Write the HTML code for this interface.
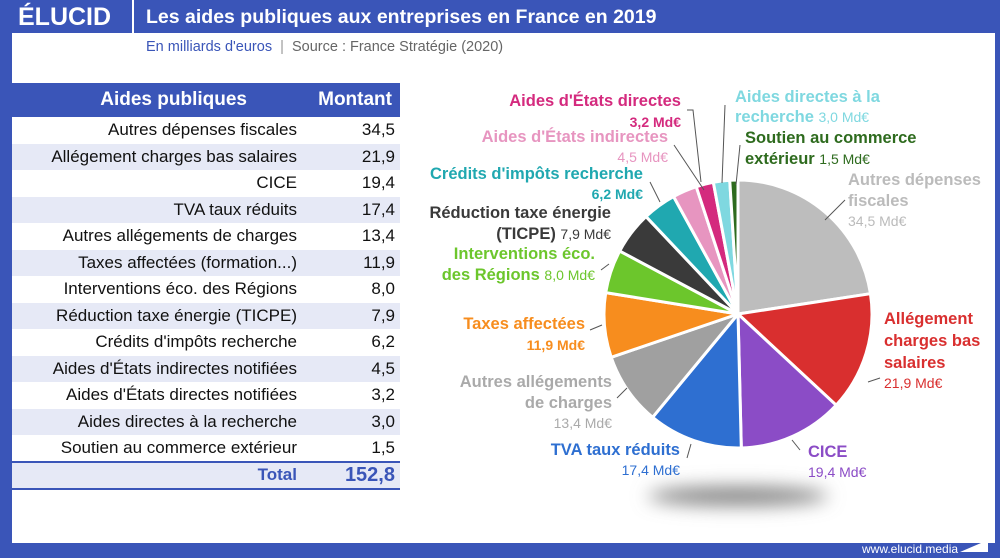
<!DOCTYPE html>
<html><head><meta charset="utf-8">
<style>
*{margin:0;padding:0;box-sizing:border-box}
body{width:1000px;height:558px;overflow:hidden;background:#3a55b8;font-family:"Liberation Sans",sans-serif;position:relative}
.inner{position:absolute;left:12px;top:33px;width:983px;height:510px;background:#fff}
.t{position:absolute;white-space:nowrap;font-weight:bold}
table{position:absolute;left:12px;top:83px;width:388px;border-collapse:collapse;table-layout:fixed}
td{font-size:17px;height:26.5px;padding:0;color:#111;white-space:nowrap;overflow:visible}
td.l{text-align:right;padding-right:3px}
td.v{text-align:right;padding-right:5px}
tr.s td{background:#e6e9f6}
tr.h td{background:#3a55b8;color:#fff;font-weight:bold;font-size:19px;height:34px}
tr.tot td{background:#e6e9f6;border-top:2px solid #3a55b8;border-bottom:2px solid #3a55b8;color:#3a55b8;font-weight:bold;height:27px}
</style></head><body>
<div class="inner"></div>
<div class="t" style="left:18px;top:3px;color:#fff;font-size:25px">ÉLUCID</div>
<div style="position:absolute;left:132px;top:0;width:2px;height:33px;background:#fff"></div>
<div class="t" style="left:146px;top:6px;color:#fff;font-size:19.5px">Les aides publiques aux entreprises en France en 2019</div>
<div class="t" style="left:146px;top:39px;font-weight:normal;font-size:14.5px;color:#3a55b8">En milliards d'euros <span style="color:#999">&nbsp;|&nbsp;</span> <span style="color:#666">Source : France Stratégie (2020)</span></div>
<table>
<colgroup><col style="width:288px"><col style="width:100px"></colgroup>
<tr class="h"><td style="text-align:right;padding-right:53px">Aides publiques</td><td style="text-align:right;padding-right:8px">Montant</td></tr>
<tr><td class="l">Autres dépenses fiscales</td><td class="v">34,5</td></tr>
<tr class="s"><td class="l">Allégement charges bas salaires</td><td class="v">21,9</td></tr>
<tr><td class="l">CICE</td><td class="v">19,4</td></tr>
<tr class="s"><td class="l">TVA taux réduits</td><td class="v">17,4</td></tr>
<tr><td class="l">Autres allégements de charges</td><td class="v">13,4</td></tr>
<tr class="s"><td class="l">Taxes affectées (formation...)</td><td class="v">11,9</td></tr>
<tr><td class="l">Interventions éco. des Régions</td><td class="v">8,0</td></tr>
<tr class="s"><td class="l">Réduction taxe énergie (TICPE)</td><td class="v">7,9</td></tr>
<tr><td class="l">Crédits d'impôts recherche</td><td class="v">6,2</td></tr>
<tr class="s"><td class="l">Aides d'États indirectes notifiées</td><td class="v">4,5</td></tr>
<tr><td class="l">Aides d'États directes notifiées</td><td class="v">3,2</td></tr>
<tr class="s"><td class="l">Aides directes à la recherche</td><td class="v">3,0</td></tr>
<tr><td class="l">Soutien au commerce extérieur</td><td class="v">1,5</td></tr>
<tr class="tot"><td class="l">Total</td><td class="v" style="font-size:20px">152,8</td></tr>
</table>
<svg style="position:absolute;left:0;top:0" width="1000" height="558">
<defs><filter id="b" x="-50%" y="-200%" width="200%" height="500%"><feGaussianBlur stdDeviation="9"/></filter></defs>
<ellipse cx="738" cy="496" rx="90" ry="10" fill="#888" filter="url(#b)"/>
<g id="pie"></g>
<g stroke="#555" stroke-width="1" fill="none">
<path d="M687 110 h6 l8 72"/><path d="M674 145 l30 45"/><path d="M650 182 l10 20"/>
<path d="M725 105 l-3 78"/><path d="M740 145 l-4 40"/><path d="M845 200 l-20 20"/>
<path d="M880 378 l-12 4"/><path d="M800 450 l-8 -10"/><path d="M687 458 l4 -14"/>
<path d="M617 398 l10 -10"/><path d="M590 330 l12 -5"/><path d="M601 270 l8 -6"/>
</g>
</svg>
<div class="t" style="right:319px;top:92px;color:#d42a7e;font-size:16.5px">Aides d'États directes</div>
<div class="t" style="right:319px;top:114px;color:#d42a7e;font-size:14px">3,2 Md€</div>
<div class="t" style="right:332px;top:128px;color:#e795c0;font-size:16.5px">Aides d'États indirectes</div>
<div class="t" style="right:332px;top:149px;color:#e795c0;font-size:14px;font-weight:normal">4,5 Md€</div>
<div class="t" style="right:357px;top:165px;color:#20a8b0;font-size:16.5px">Crédits d'impôts recherche</div>
<div class="t" style="right:357px;top:186px;color:#20a8b0;font-size:14px">6,2 Md€</div>
<div class="t" style="right:389px;top:204px;color:#3a3a3a;font-size:16.5px">Réduction taxe énergie</div>
<div class="t" style="right:389px;top:225px;color:#3a3a3a;font-size:16.5px">(TICPE) <span style="font-size:14px;font-weight:normal">7,9 Md€</span></div>
<div class="t" style="right:405px;top:245px;color:#6cc62c;font-size:16.5px">Interventions éco.</div>
<div class="t" style="right:405px;top:266px;color:#6cc62c;font-size:16.5px">des Régions <span style="font-size:14px;font-weight:normal">8,0 Md€</span></div>
<div class="t" style="right:415px;top:315px;color:#f78d1e;font-size:16.5px">Taxes affectées</div>
<div class="t" style="right:415px;top:337px;color:#f78d1e;font-size:14px">11,9 Md€</div>
<div class="t" style="right:388px;top:373px;color:#aaa;font-size:16.5px">Autres allégements</div>
<div class="t" style="right:388px;top:394px;color:#aaa;font-size:16.5px">de charges</div>
<div class="t" style="right:388px;top:415px;color:#aaa;font-size:14px;font-weight:normal">13,4 Md€</div>
<div class="t" style="right:320px;top:441px;color:#2e6fd1;font-size:16.5px">TVA taux réduits</div>
<div class="t" style="right:320px;top:462px;color:#2e6fd1;font-size:14px;font-weight:normal">17,4 Md€</div>
<div class="t" style="left:735px;top:88px;color:#7fd8e0;font-size:16.5px">Aides directes à la</div>
<div class="t" style="left:735px;top:108px;color:#7fd8e0;font-size:16.5px">recherche <span style="font-size:14px;font-weight:normal">3,0 Md€</span></div>
<div class="t" style="left:745px;top:129px;color:#2e6b1e;font-size:16.5px">Soutien au commerce</div>
<div class="t" style="left:745px;top:150px;color:#2e6b1e;font-size:16.5px">extérieur <span style="font-size:14px;font-weight:normal">1,5 Md€</span></div>
<div class="t" style="left:848px;top:171px;color:#bbb;font-size:16.5px">Autres dépenses</div>
<div class="t" style="left:848px;top:192px;color:#bbb;font-size:16.5px">fiscales</div>
<div class="t" style="left:848px;top:213px;color:#bbb;font-size:14px;font-weight:normal">34,5 Md€</div>
<div class="t" style="left:884px;top:310px;color:#d92f2f;font-size:16.5px">Allégement</div>
<div class="t" style="left:884px;top:332px;color:#d92f2f;font-size:16.5px">charges bas</div>
<div class="t" style="left:884px;top:354px;color:#d92f2f;font-size:16.5px">salaires</div>
<div class="t" style="left:884px;top:375px;color:#d92f2f;font-size:14px;font-weight:normal">21,9 Md€</div>
<div class="t" style="left:808px;top:443px;color:#8b4cc6;font-size:16.5px">CICE</div>
<div class="t" style="left:808px;top:464px;color:#8b4cc6;font-size:14px;font-weight:normal">19,4 Md€</div>
<div class="t" style="left:862px;top:542px;color:#fff;font-size:12px;font-weight:normal">www.elucid.media</div>
<svg style="position:absolute;left:958px;top:539px" width="32" height="14"><polygon points="2,13 30,1 30,13" fill="#fff"/></svg>
<script>
var d=[[34.5,'#bdbdbd'],[21.9,'#d92f2f'],[19.4,'#8b4cc6'],[17.4,'#2e6fd1'],[13.4,'#a0a0a0'],[11.9,'#f78d1e'],[8.0,'#6cc62c'],[7.9,'#3a3a3a'],[6.2,'#20a8b0'],[4.5,'#e795c0'],[3.2,'#d42a7e'],[3.0,'#7fd8e0'],[1.5,'#2e6b1e']];
var cx=738,cy=314,r=134,tot=152.8,a=0,s='';
d.forEach(function(e){var a0=a;a+=e[0]/tot*2*Math.PI;
var x0=cx+r*Math.sin(a0),y0=cy-r*Math.cos(a0),x1=cx+r*Math.sin(a),y1=cy-r*Math.cos(a);
s+='<path d="M'+cx+' '+cy+' L'+x0+' '+y0+' A'+r+' '+r+' 0 '+((a-a0)>Math.PI?1:0)+' 1 '+x1+' '+y1+' Z" fill="'+e[1]+'" stroke="#fff" stroke-width="3" stroke-linejoin="round"/>';});
document.getElementById('pie').innerHTML=s;
</script>
</body></html>
